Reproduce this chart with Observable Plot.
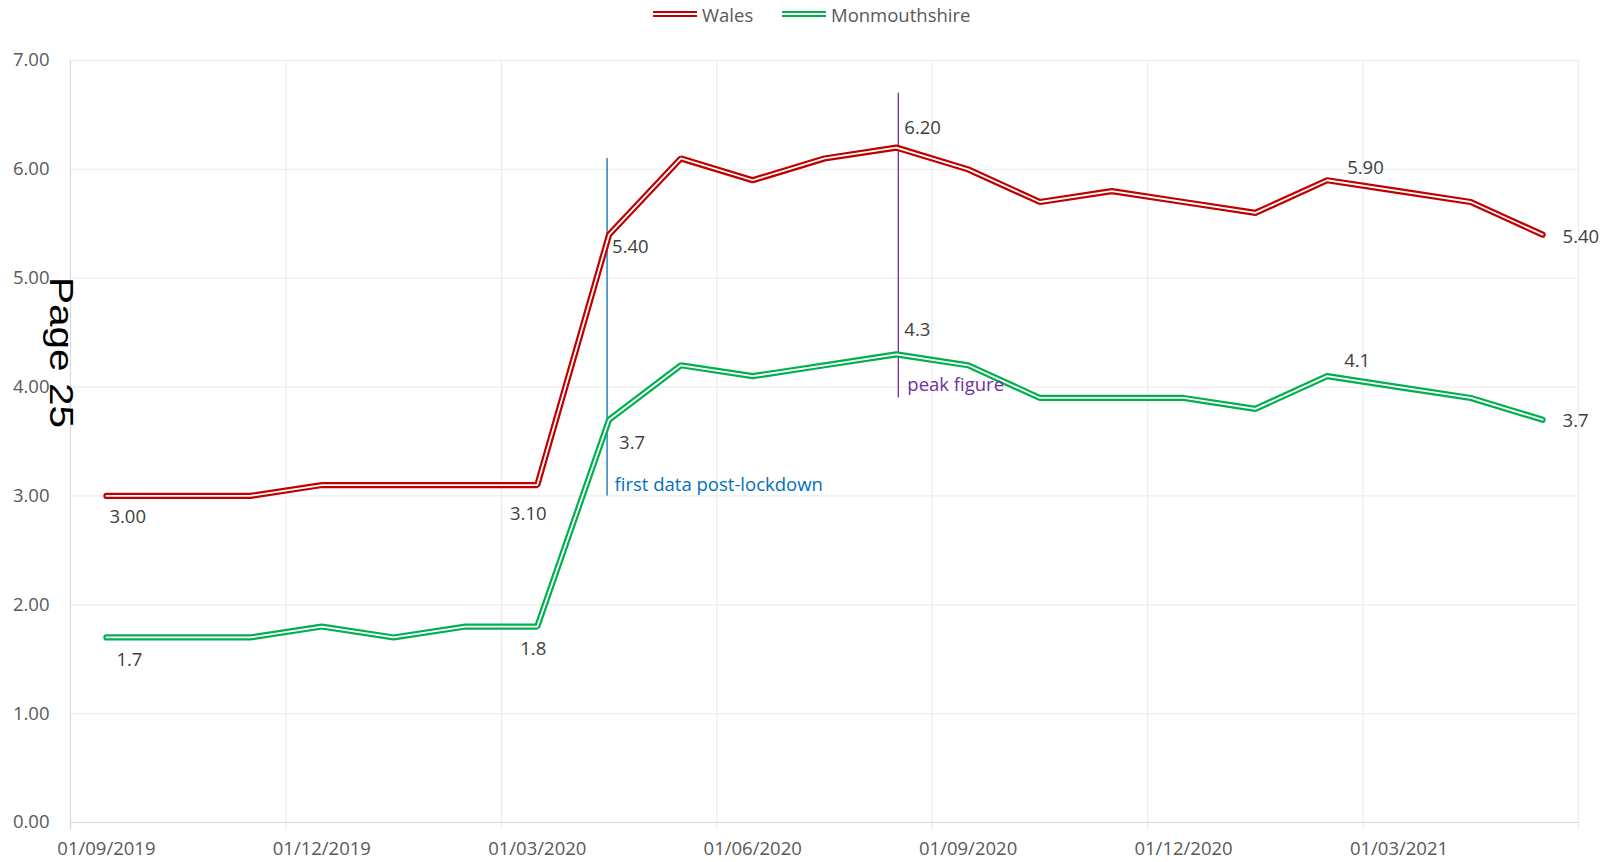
<!DOCTYPE html>
<html><head><meta charset="utf-8">
<script src="https://cdn.jsdelivr.net/npm/d3@7"></script>
<script src="https://cdn.jsdelivr.net/npm/@observablehq/plot@0.6"></script>
<style>
body{margin:0;background:#fff;font-family:"Open Sans",sans-serif;width:1600px;height:862px;overflow:hidden}
#legend{height:28px;position:relative}
.item{position:absolute;top:0;height:28px;display:flex;align-items:center;font-size:18.5px;color:#595959;white-space:nowrap}
.sw{width:44px;height:1.8px;border-top:2.2px solid;border-bottom:2.2px solid;margin-right:5px}
#chart svg{display:block}
</style></head>
<body>
<div id="legend"></div>
<div id="chart"></div>
<script>
// ---- data ----
const months = ["2019-09","2019-10","2019-11","2019-12","2020-01","2020-02","2020-03","2020-04","2020-05","2020-06","2020-07","2020-08","2020-09","2020-10","2020-11","2020-12","2021-01","2021-02","2021-03","2021-04","2021-05"];
const wales = [3.0,3.0,3.0,3.1,3.1,3.1,3.1,5.4,6.1,5.9,6.1,6.2,6.0,5.7,5.8,5.7,5.6,5.9,5.8,5.7,5.4];
const monmouthshire = [1.7,1.7,1.7,1.8,1.7,1.8,1.8,3.7,4.2,4.1,4.2,4.3,4.2,3.9,3.9,3.9,3.8,4.1,4.0,3.9,3.7];
const seriesNames = ["Wales","Monmouthshire"];
const seriesColors = ["#C00000","#00B050"];
const tickMonths = ["2019-09","2019-12","2020-03","2020-06","2020-09","2020-12","2021-03"];
const tickLabels = ["01/09/2019","01/12/2019","01/03/2020","01/06/2020","01/09/2020","01/12/2020","01/03/2021"];
const yTicks = [0,1,2,3,4,5,6,7];
const labelMonths = ["2019-09","2020-03","2020-04","2020-08","2021-02","2021-05"];
const annotationMonths = ["2020-04","2020-08"];
const annotationTexts = ["first data post-lockdown","peak figure"];
const annotationFrom = [3.0, 3.9];
const annotationTo = [6.1, 6.7];
const annotationTextAt = [3.1, 4.0];
const annotationColors = ["#0070C0","#7030A0"];
const pageLabel = "Page 25";

// ---- helpers ----
const idx = m => { const [y, mo] = m.split("-").map(Number); return (y - 2019) * 12 + mo - 9; };
const rows = [];
months.forEach((m, i) => {
  rows.push({x: idx(m), v: wales[i], s: "Wales", m});
  rows.push({x: idx(m), v: monmouthshire[i], s: "Monmouthshire", m});
});
const wRows = rows.filter(d => d.s === "Wales");
const mRows = rows.filter(d => d.s === "Monmouthshire");

// legend
const legend = document.getElementById("legend");
const legendLeft = [653, 782];
seriesNames.forEach((n, i) => {
  const it = document.createElement("div");
  it.className = "item";
  it.style.left = legendLeft[i] + "px";
  it.innerHTML = `<div class="sw" style="border-color:${seriesColors[i]}"></div><span>${n}</span>`;
  legend.appendChild(it);
});

// label placements (style, not data)
const wPlace = {
  "2019-09": {dx: 3, dy: 21, a: "start"},
  "2020-03": {dx: -9, dy: 29, a: "middle"},
  "2020-04": {dx: 3, dy: 12, a: "start"},
  "2020-08": {dx: 8, dy: -20, a: "start"},
  "2021-02": {dx: 20, dy: -12, a: "start"},
  "2021-05": {dx: 20, dy: 2, a: "start"}
};
const mPlace = {
  "2019-09": {dx: 10, dy: 23, a: "start"},
  "2020-03": {dx: -17, dy: 23, a: "start"},
  "2020-04": {dx: 10, dy: 23, a: "start"},
  "2020-08": {dx: 8, dy: -24, a: "start"},
  "2021-02": {dx: 17, dy: -15, a: "start"},
  "2021-05": {dx: 20, dy: 1, a: "start"}
};
const labelMarks = [];
labelMonths.forEach(m => {
  const w = wRows.find(d => d.m === m), p = wPlace[m];
  labelMarks.push(Plot.text([w], {x: "x", y: "v", text: d => d.v.toFixed(2), dx: p.dx, dy: p.dy, textAnchor: p.a, lineAnchor: "middle", fill: "#404040", fontSize: 18.5}));
  const g = mRows.find(d => d.m === m), q = mPlace[m];
  labelMarks.push(Plot.text([g], {x: "x", y: "v", text: d => d.v.toFixed(1), dx: q.dx, dy: q.dy, textAnchor: q.a, lineAnchor: "middle", fill: "#404040", fontSize: 18.5}));
});

const ann = annotationMonths.map((m, i) => ({x: idx(m), y1: annotationFrom[i], y2: annotationTo[i], t: annotationTexts[i], ty: annotationTextAt[i], c: annotationColors[i]}));

const gridX = d3.range(-0.5, idx(months[months.length - 1]) + 1, 3);

const plot = Plot.plot({
  width: 1600, height: 834,
  marginTop: 32, marginBottom: 40, marginLeft: 70, marginRight: 22,
  x: {type: "linear", domain: [-0.5, 20.5]},
  y: {domain: [0, 7]},
  style: {fontFamily: "Open Sans", fontSize: "18.5px", color: "#595959", background: "white", overflow: "visible"},
  marks: [
    Plot.ruleY(yTicks.filter(d => d > 0), {stroke: "#eeeeee", strokeWidth: 1.3}),
    Plot.ruleX(gridX.filter(d => d > -0.5), {stroke: "#ececec", strokeWidth: 1.2, insetBottom: -8}),
    Plot.ruleX([-0.5], {stroke: "#d9d9d9", strokeWidth: 1.2, insetBottom: -8}),
    Plot.ruleY([0], {stroke: "#d9d9d9", strokeWidth: 1.2}),
    Plot.axisY(yTicks, {tickSize: 0, tickPadding: 21, tickFormat: d => d.toFixed(2), fontSize: 18.5, label: null}),
    Plot.axisX(tickMonths.map(idx), {tickSize: 0, tickPadding: 19, tickFormat: d => tickLabels[tickMonths.map(idx).indexOf(d)], fontSize: 18.5, label: null}),
    // annotation rules
    Plot.ruleX(ann.slice(0,1), {x: "x", y1: "y1", y2: "y2", stroke: "c", strokeWidth: 1.3, dx: -2}),
    Plot.ruleX(ann.slice(1,2), {x: "x", y1: "y1", y2: "y2", stroke: "c", strokeWidth: 1.3, dx: 2}),
    // lines (double)
    Plot.line(wRows, {x: "x", y: "v", stroke: seriesColors[0], strokeWidth: 6.2, strokeLinejoin: "miter"}),
    Plot.line(wRows, {x: "x", y: "v", stroke: "white", strokeWidth: 1.8, strokeLinejoin: "miter"}),
    Plot.line(mRows, {x: "x", y: "v", stroke: seriesColors[1], strokeWidth: 6.2, strokeLinejoin: "miter"}),
    Plot.line(mRows, {x: "x", y: "v", stroke: "white", strokeWidth: 1.8, strokeLinejoin: "miter"}),
    // annotation texts
    Plot.text(ann.slice(0,1), {x: "x", y: "ty", text: "t", fill: "c", textAnchor: "start", lineAnchor: "middle", dx: 5.5, dy: 0, fontSize: 18.5}),
    Plot.text(ann.slice(1,2), {x: "x", y: "ty", text: "t", fill: "c", textAnchor: "start", lineAnchor: "middle", dx: 11, dy: -2, fontSize: 18.5}),
    ...labelMarks
  ]
});
document.getElementById("chart").appendChild(plot);

d3.select(plot).append("text")
  .attr("transform", "translate(50,249) rotate(90)")
  .attr("text-anchor", "start")
  .attr("font-family", "Liberation Sans, Arial, sans-serif")
  .attr("font-size", 34)
  .attr("fill", "black")
  .attr("textLength", 151)
  .attr("lengthAdjust", "spacingAndGlyphs")
  .text(pageLabel);
</script>
</body></html>
